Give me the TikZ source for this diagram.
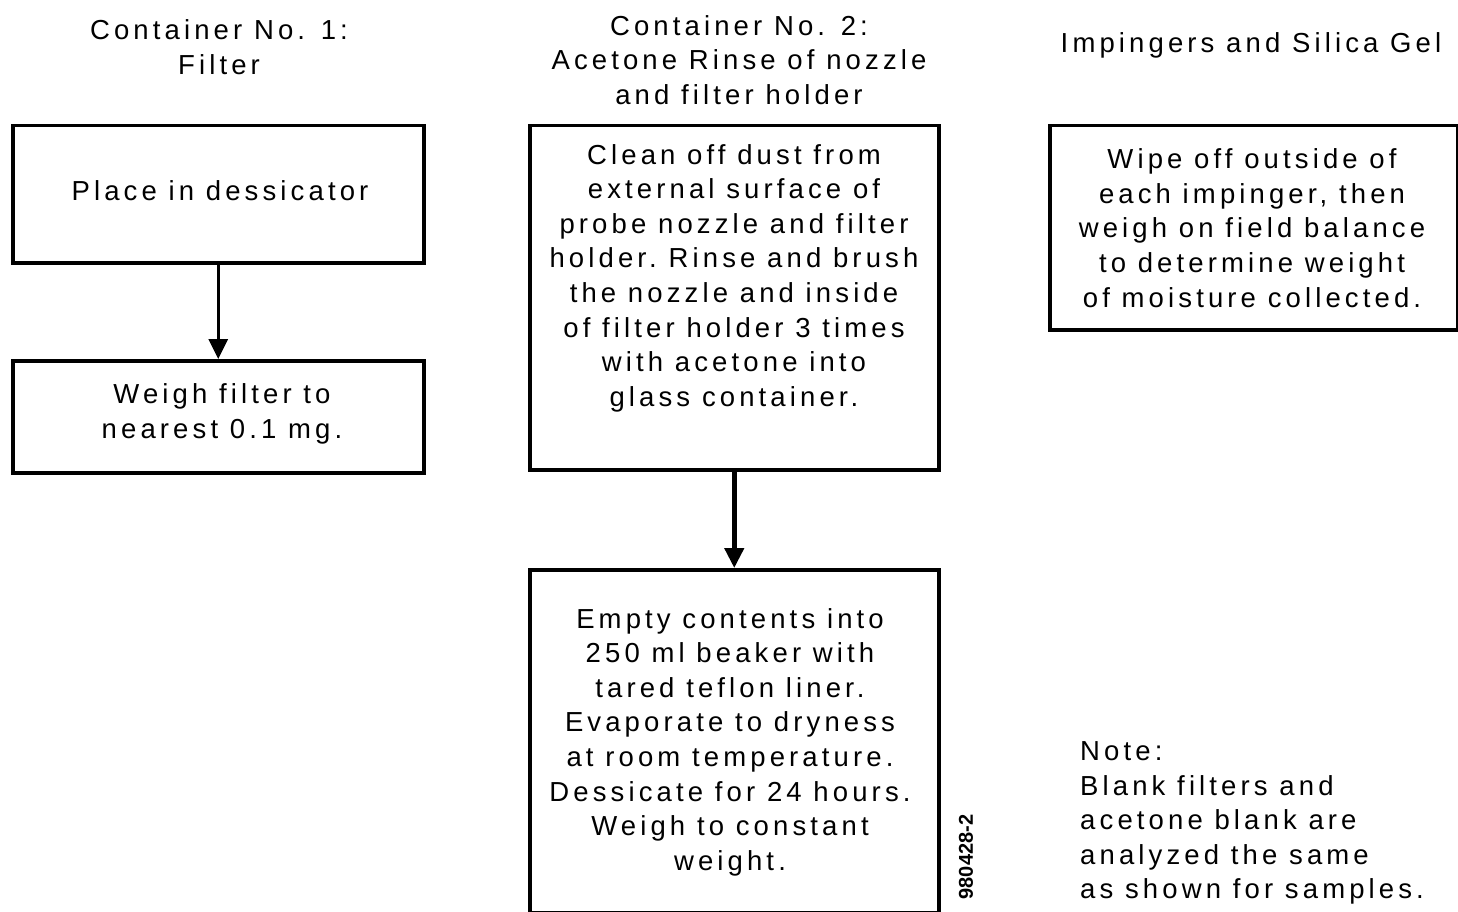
\documentclass[tikz,border=0pt]{standalone}
\usepackage{fontspec}
\setmainfont{Liberation Sans}[LetterSpace=15]
\usetikzlibrary{arrows.meta}
\begin{document}
\begin{tikzpicture}[x=1pt,y=-1pt,
  box/.style={draw,line width=3.5pt,inner sep=0pt,anchor=north west},
  txt/.style={align=center,inner sep=0pt,font=\fontsize{27.5}{34.6}\selectfont},
  ltxt/.style={align=left,inner sep=0pt,font=\fontsize{27.5}{34.6}\selectfont},
  conn/.style={line width=3pt,-{Triangle[length=20pt,width=19pt]}}]
\useasboundingbox (0,0) rectangle (1458,912);
% titles
\node[txt] (t1) at (219,47) {Container No. 1:\\Filter};
\node[txt] (t2) at (739,60) {Container No. 2:\\Acetone Rinse of nozzle\\and filter holder};
\node[txt] (t3) at (1251,45) {Impingers and Silica Gel};
% boxes
\node[box,minimum width=411pt,minimum height=137pt] (a) at (11,124) {};
\node[box,minimum width=411pt,minimum height=112pt] (b) at (11,359) {};
\node[box,minimum width=409pt,minimum height=344pt] (c) at (528,124) {};
\node[box,minimum width=409pt,minimum height=343pt] (d) at (528,568) {};
\node[box,minimum width=408pt,minimum height=204pt] (e) at (1048,124) {};
% texts
\node[txt] (ta) at (220,191) {Place in dessicator};
\node[txt] (tb) at (222,414) {Weigh filter to\\nearest 0.1 mg.};
\node[txt] (tc) at (734,278) {Clean off dust from\\external surface of\\probe nozzle and filter\\holder.\ Rinse and brush\\the nozzle and inside\\of filter holder 3 times\\with acetone into\\glass container.};
\node[txt] (td) at (730,742) {Empty contents into\\250 ml beaker with\\tared teflon liner.\\Evaporate to dryness\\at room temperature.\\Dessicate for 24 hours.\\Weigh to constant\\weight.};
\node[txt] (te) at (1252,228) {Wipe off outside of\\each impinger, then\\weigh on field balance\\to determine weight\\of moisture collected.};
\node[ltxt,anchor=west] (note) at (1080,823) {Note:\\Blank filters and\\acetone blank are\\analyzed the same\\as shown for samples.};
\node[inner sep=0pt,rotate=90,font=\fontsize{20}{20}\selectfont\bfseries\addfontfeatures{LetterSpace=0}] (code) at (966,857) {980428-2};
% connectors
\draw[conn] (a.south) -- (b.north);
\draw[conn,line width=4.5pt] (c.south) -- (d.north);
\end{tikzpicture}
\end{document}
